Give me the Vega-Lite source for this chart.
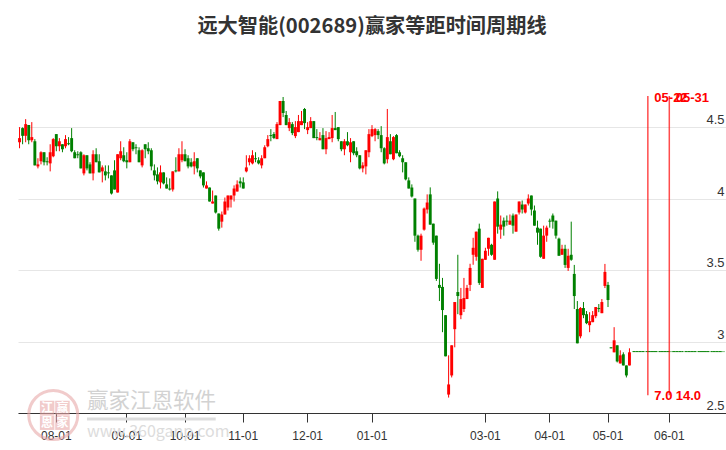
{"$schema":"https://vega.github.io/schema/vega-lite/v6.json","width":708,"height":353,"autosize":{"type":"none"},"padding":{"left":18,"top":60,"right":0,"bottom":37},"background":"white","config":{"view":{"stroke":null}},
"title":{"text":"远大智能(002689)赢家等距时间周期线","font":"Noto Sans CJK SC","fontSize":20.2,"fontWeight":"bold","color":"#333333","anchor":"middle","offset":23},
"datasets":{"k":[
{"d":"07-14","o":4.396,"c":4.425,"h":4.502,"l":4.354},{"d":"07-17","o":4.495,"c":4.441,"h":4.5,"l":4.382},{"d":"07-18","o":4.441,"c":4.523,"h":4.558,"l":4.396},{"d":"07-19","o":4.516,"c":4.41,"h":4.516,"l":4.382},{"d":"07-20","o":4.41,"c":4.432,"h":4.537,"l":4.396},{"d":"07-21","o":4.403,"c":4.234,"h":4.418,"l":4.234},{"d":"07-24","o":4.227,"c":4.241,"h":4.284,"l":4.213},{"d":"07-25","o":4.263,"c":4.326,"h":4.333,"l":4.241},{"d":"07-26","o":4.326,"c":4.256,"h":4.326,"l":4.234},{"d":"07-27","o":4.263,"c":4.256,"h":4.291,"l":4.234},{"d":"07-28","o":4.248,"c":4.326,"h":4.382,"l":4.192},{"d":"07-31","o":4.298,"c":4.418,"h":4.425,"l":4.291},
{"d":"08-01","o":4.453,"c":4.368,"h":4.453,"l":4.333},{"d":"08-02","o":4.368,"c":4.403,"h":4.425,"l":4.333},{"d":"08-03","o":4.382,"c":4.347,"h":4.382,"l":4.326},{"d":"08-04","o":4.368,"c":4.418,"h":4.446,"l":4.354},{"d":"08-07","o":4.389,"c":4.382,"h":4.432,"l":4.375},{"d":"08-08","o":4.425,"c":4.333,"h":4.495,"l":4.326},{"d":"08-09","o":4.326,"c":4.284,"h":4.34,"l":4.284},{"d":"08-10","o":4.312,"c":4.305,"h":4.333,"l":4.284},{"d":"08-11","o":4.326,"c":4.213,"h":4.333,"l":4.213},{"d":"08-14","o":4.178,"c":4.305,"h":4.312,"l":4.164},{"d":"08-15","o":4.305,"c":4.213,"h":4.305,"l":4.199},{"d":"08-16","o":4.241,"c":4.178,"h":4.256,"l":4.178},{"d":"08-17","o":4.178,"c":4.312,"h":4.34,"l":4.129},{"d":"08-18","o":4.312,"c":4.256,"h":4.354,"l":4.256},{"d":"08-21","o":4.263,"c":4.185,"h":4.312,"l":4.185},{"d":"08-22","o":4.192,"c":4.22,"h":4.234,"l":4.115},{"d":"08-23","o":4.192,"c":4.164,"h":4.234,"l":4.129},{"d":"08-24","o":4.185,"c":4.178,"h":4.234,"l":4.143},{"d":"08-25","o":4.164,"c":4.037,"h":4.164,"l":4.03},{"d":"08-28","o":4.199,"c":4.065,"h":4.27,"l":4.065},{"d":"08-29","o":4.044,"c":4.312,"h":4.312,"l":4.044},{"d":"08-30","o":4.284,"c":4.333,"h":4.403,"l":4.27},{"d":"08-31","o":4.305,"c":4.263,"h":4.361,"l":4.256},
{"d":"09-01","o":4.27,"c":4.256,"h":4.326,"l":4.213},{"d":"09-04","o":4.256,"c":4.403,"h":4.418,"l":4.256},{"d":"09-05","o":4.396,"c":4.347,"h":4.396,"l":4.333},{"d":"09-06","o":4.361,"c":4.354,"h":4.382,"l":4.312},{"d":"09-07","o":4.34,"c":4.256,"h":4.361,"l":4.256},{"d":"09-08","o":4.234,"c":4.34,"h":4.347,"l":4.22},{"d":"09-11","o":4.382,"c":4.347,"h":4.382,"l":4.284},{"d":"09-12","o":4.354,"c":4.333,"h":4.396,"l":4.312},{"d":"09-13","o":4.34,"c":4.227,"h":4.354,"l":4.199},{"d":"09-14","o":4.199,"c":4.164,"h":4.241,"l":4.129},{"d":"09-15","o":4.171,"c":4.122,"h":4.22,"l":4.101},{"d":"09-18","o":4.115,"c":4.185,"h":4.234,"l":4.072},{"d":"09-19","o":4.185,"c":4.108,"h":4.185,"l":4.101},{"d":"09-20","o":4.101,"c":4.072,"h":4.15,"l":4.072},{"d":"09-21","o":4.072,"c":4.065,"h":4.143,"l":4.058},{"d":"09-22","o":4.065,"c":4.192,"h":4.192,"l":4.051},{"d":"09-25","o":4.199,"c":4.192,"h":4.291,"l":4.185},{"d":"09-26","o":4.192,"c":4.312,"h":4.354,"l":4.192},{"d":"09-27","o":4.27,"c":4.312,"h":4.403,"l":4.256},
{"d":"10-01","o":4.312,"c":4.263,"h":4.347,"l":4.263},{"d":"10-08","o":4.284,"c":4.227,"h":4.305,"l":4.213},{"d":"10-09","o":4.256,"c":4.227,"h":4.284,"l":4.22},{"d":"10-10","o":4.227,"c":4.263,"h":4.326,"l":4.171},{"d":"10-11","o":4.284,"c":4.213,"h":4.284,"l":4.185},{"d":"10-12","o":4.199,"c":4.157,"h":4.199,"l":4.143},{"d":"10-13","o":4.185,"c":4.094,"h":4.185,"l":4.079},{"d":"10-16","o":4.072,"c":4.094,"h":4.122,"l":4.072},{"d":"10-17","o":4.079,"c":3.981,"h":4.079,"l":3.981},{"d":"10-18","o":3.967,"c":3.981,"h":4.058,"l":3.967},{"d":"10-19","o":4.023,"c":3.904,"h":4.023,"l":3.897},{"d":"10-20","o":3.897,"c":3.791,"h":3.897,"l":3.777},{"d":"10-23","o":3.84,"c":3.89,"h":3.911,"l":3.798},{"d":"10-24","o":3.89,"c":3.981,"h":4.009,"l":3.89},{"d":"10-25","o":3.939,"c":4.023,"h":4.023,"l":3.918},{"d":"10-26","o":3.995,"c":4.023,"h":4.023,"l":3.939},{"d":"10-27","o":4.023,"c":4.072,"h":4.094,"l":3.981},{"d":"10-30","o":4.051,"c":4.101,"h":4.129,"l":4.051},{"d":"10-31","o":4.122,"c":4.108,"h":4.15,"l":4.079},
{"d":"11-01","o":4.115,"c":4.072,"h":4.15,"l":4.072},{"d":"11-02","o":4.192,"c":4.22,"h":4.305,"l":4.185},{"d":"11-03","o":4.256,"c":4.284,"h":4.305,"l":4.234},{"d":"11-06","o":4.248,"c":4.305,"h":4.34,"l":4.241},{"d":"11-07","o":4.284,"c":4.277,"h":4.326,"l":4.256},{"d":"11-08","o":4.27,"c":4.248,"h":4.291,"l":4.241},{"d":"11-09","o":4.234,"c":4.284,"h":4.305,"l":4.213},{"d":"11-10","o":4.284,"c":4.361,"h":4.375,"l":4.284},{"d":"11-13","o":4.368,"c":4.418,"h":4.446,"l":4.361},{"d":"11-14","o":4.446,"c":4.439,"h":4.488,"l":4.403},{"d":"11-15","o":4.453,"c":4.425,"h":4.467,"l":4.418},{"d":"11-16","o":4.418,"c":4.523,"h":4.537,"l":4.418},{"d":"11-17","o":4.516,"c":4.685,"h":4.685,"l":4.516},{"d":"11-20","o":4.685,"c":4.601,"h":4.713,"l":4.572},{"d":"11-21","o":4.587,"c":4.516,"h":4.615,"l":4.516},{"d":"11-22","o":4.495,"c":4.537,"h":4.565,"l":4.474},{"d":"11-23","o":4.523,"c":4.46,"h":4.537,"l":4.446},{"d":"11-24","o":4.439,"c":4.502,"h":4.544,"l":4.425},{"d":"11-27","o":4.467,"c":4.544,"h":4.587,"l":4.467},{"d":"11-28","o":4.516,"c":4.544,"h":4.615,"l":4.516},{"d":"11-29","o":4.629,"c":4.53,"h":4.636,"l":4.488},
{"d":"12-01","o":4.481,"c":4.502,"h":4.537,"l":4.453},{"d":"12-04","o":4.495,"c":4.544,"h":4.572,"l":4.495},{"d":"12-05","o":4.544,"c":4.425,"h":4.544,"l":4.425},{"d":"12-06","o":4.432,"c":4.425,"h":4.488,"l":4.41},{"d":"12-07","o":4.41,"c":4.425,"h":4.467,"l":4.41},{"d":"12-08","o":4.446,"c":4.347,"h":4.495,"l":4.347},{"d":"12-11","o":4.347,"c":4.425,"h":4.474,"l":4.312},{"d":"12-12","o":4.418,"c":4.432,"h":4.467,"l":4.418},{"d":"12-13","o":4.425,"c":4.495,"h":4.587,"l":4.396},{"d":"12-14","o":4.495,"c":4.481,"h":4.608,"l":4.481},{"d":"12-15","o":4.502,"c":4.418,"h":4.502,"l":4.403},{"d":"12-18","o":4.403,"c":4.347,"h":4.403,"l":4.333},{"d":"12-19","o":4.347,"c":4.403,"h":4.418,"l":4.305},{"d":"12-20","o":4.403,"c":4.375,"h":4.467,"l":4.368},{"d":"12-21","o":4.326,"c":4.396,"h":4.425,"l":4.256},{"d":"12-22","o":4.403,"c":4.319,"h":4.403,"l":4.305},{"d":"12-25","o":4.333,"c":4.305,"h":4.361,"l":4.291},{"d":"12-26","o":4.305,"c":4.213,"h":4.305,"l":4.206},{"d":"12-27","o":4.213,"c":4.234,"h":4.256,"l":4.185},{"d":"12-28","o":4.227,"c":4.34,"h":4.34,"l":4.171},{"d":"12-29","o":4.326,"c":4.453,"h":4.488,"l":4.291},
{"d":"01-01","o":4.439,"c":4.488,"h":4.516,"l":4.432},{"d":"01-02","o":4.446,"c":4.488,"h":4.495,"l":4.403},{"d":"01-03","o":4.474,"c":4.446,"h":4.488,"l":4.418},{"d":"01-04","o":4.446,"c":4.354,"h":4.509,"l":4.326},{"d":"01-05","o":4.354,"c":4.248,"h":4.361,"l":4.241},{"d":"01-08","o":4.277,"c":4.432,"h":4.629,"l":4.248},{"d":"01-09","o":4.403,"c":4.312,"h":4.453,"l":4.312},{"d":"01-10","o":4.277,"c":4.432,"h":4.439,"l":4.27},{"d":"01-11","o":4.446,"c":4.319,"h":4.453,"l":4.319},{"d":"01-12","o":4.326,"c":4.298,"h":4.34,"l":4.291},{"d":"01-15","o":4.284,"c":4.256,"h":4.305,"l":4.185},{"d":"01-16","o":4.256,"c":4.136,"h":4.256,"l":4.129},{"d":"01-17","o":4.129,"c":4.072,"h":4.15,"l":4.072},{"d":"01-18","o":4.079,"c":4.016,"h":4.101,"l":4.009},{"d":"01-19","o":4.002,"c":3.742,"h":4.002,"l":3.699},{"d":"01-22","o":3.742,"c":3.643,"h":3.749,"l":3.63},{"d":"01-23","o":3.643,"c":3.742,"h":3.756,"l":3.566},{"d":"01-24","o":3.784,"c":3.932,"h":3.939,"l":3.777},{"d":"01-25","o":3.925,"c":3.974,"h":4.031,"l":3.897},{"d":"01-26","o":4.031,"c":3.819,"h":4.08,"l":3.819},{"d":"01-29","o":3.826,"c":3.693,"h":3.826,"l":3.678},{"d":"01-30","o":3.742,"c":3.439,"h":3.742,"l":3.425},{"d":"01-31","o":3.397,"c":3.376,"h":3.545,"l":3.284},
{"d":"02-01","o":3.383,"c":3.221,"h":3.446,"l":3.066},{"d":"02-02","o":3.185,"c":2.897,"h":3.185,"l":2.897},{"d":"02-05","o":2.629,"c":2.7,"h":2.904,"l":2.608},{"d":"02-06","o":2.763,"c":2.974,"h":2.974,"l":2.749},{"d":"02-07","o":3.087,"c":3.277,"h":3.277,"l":2.96},{"d":"02-08","o":3.347,"c":3.319,"h":3.608,"l":3.192},{"d":"02-19","o":3.185,"c":3.298,"h":3.376,"l":3.157},{"d":"02-20","o":3.228,"c":3.305,"h":3.446,"l":3.207},{"d":"02-21","o":3.298,"c":3.376,"h":3.397,"l":3.298},{"d":"02-22","o":3.397,"c":3.516,"h":3.545,"l":3.354},{"d":"02-23","o":3.608,"c":3.657,"h":3.727,"l":3.538},{"d":"02-26","o":3.594,"c":3.77,"h":3.77,"l":3.566},{"d":"02-27","o":3.791,"c":3.411,"h":3.826,"l":3.397},{"d":"02-28","o":3.376,"c":3.58,"h":3.58,"l":3.376},
{"d":"03-01","o":3.573,"c":3.636,"h":3.657,"l":3.573},{"d":"03-04","o":3.65,"c":3.727,"h":3.727,"l":3.601},{"d":"03-05","o":3.678,"c":3.608,"h":3.685,"l":3.601},{"d":"03-06","o":3.573,"c":3.981,"h":3.981,"l":3.573},{"d":"03-07","o":4.002,"c":3.805,"h":4.052,"l":3.756},{"d":"03-08","o":3.784,"c":3.819,"h":3.883,"l":3.72},{"d":"03-11","o":3.847,"c":3.805,"h":3.869,"l":3.742},{"d":"03-12","o":3.847,"c":3.84,"h":3.883,"l":3.812},{"d":"03-13","o":3.819,"c":3.847,"h":3.89,"l":3.819},{"d":"03-14","o":3.883,"c":3.812,"h":3.897,"l":3.756},{"d":"03-15","o":3.77,"c":3.89,"h":3.89,"l":3.77},{"d":"03-18","o":3.904,"c":3.981,"h":3.981,"l":3.89},{"d":"03-19","o":3.96,"c":3.925,"h":3.988,"l":3.897},{"d":"03-20","o":3.904,"c":3.96,"h":3.96,"l":3.897},{"d":"03-21","o":3.967,"c":4.002,"h":4.031,"l":3.953},{"d":"03-22","o":4.023,"c":3.925,"h":4.023,"l":3.883},{"d":"03-25","o":3.918,"c":3.812,"h":3.953,"l":3.812},{"d":"03-26","o":3.798,"c":3.763,"h":3.847,"l":3.678},{"d":"03-27","o":3.791,"c":3.594,"h":3.791,"l":3.587},{"d":"03-28","o":3.58,"c":3.742,"h":3.812,"l":3.58},{"d":"03-29","o":3.742,"c":3.798,"h":3.812,"l":3.699},
{"d":"04-01","o":3.847,"c":3.84,"h":3.861,"l":3.798},{"d":"04-02","o":3.883,"c":3.84,"h":3.897,"l":3.791},{"d":"04-03","o":3.847,"c":3.742,"h":3.847,"l":3.721},{"d":"04-08","o":3.721,"c":3.601,"h":3.728,"l":3.601},{"d":"04-09","o":3.608,"c":3.65,"h":3.678,"l":3.608},{"d":"04-10","o":3.65,"c":3.537,"h":3.678,"l":3.516},{"d":"04-11","o":3.516,"c":3.601,"h":3.65,"l":3.495},{"d":"04-12","o":3.608,"c":3.573,"h":3.84,"l":3.566},{"d":"04-15","o":3.474,"c":3.319,"h":3.537,"l":3.228},{"d":"04-16","o":3.228,"c":2.988,"h":3.284,"l":2.988},{"d":"04-17","o":3.037,"c":3.235,"h":3.242,"l":3.023},{"d":"04-18","o":3.235,"c":3.185,"h":3.277,"l":3.164},{"d":"04-19","o":3.192,"c":3.129,"h":3.214,"l":3.122},{"d":"04-22","o":3.115,"c":3.143,"h":3.206,"l":3.066},{"d":"04-23","o":3.136,"c":3.185,"h":3.214,"l":3.136},{"d":"04-24","o":3.178,"c":3.242,"h":3.242,"l":3.164},{"d":"04-25","o":3.235,"c":3.228,"h":3.263,"l":3.206},{"d":"04-26","o":3.199,"c":3.277,"h":3.298,"l":3.199},{"d":"04-29","o":3.39,"c":3.488,"h":3.544,"l":3.375},
{"d":"05-01","o":3.397,"c":3.291,"h":3.418,"l":3.242},{"d":"05-06","o":2.96,"c":2.953,"h":2.96,"l":2.953},{"d":"05-07","o":2.925,"c":3.009,"h":3.101,"l":2.925},{"d":"05-08","o":2.974,"c":2.861,"h":2.974,"l":2.854},{"d":"05-09","o":2.847,"c":2.904,"h":2.939,"l":2.847},{"d":"05-10","o":2.911,"c":2.833,"h":2.925,"l":2.833},{"d":"05-13","o":2.833,"c":2.763,"h":2.833,"l":2.749},{"d":"05-14","o":2.833,"c":2.925,"h":2.953,"l":2.833}
],
"f":[{"d":"05-15","v":2.93},{"d":"05-16","v":2.93},{"d":"05-17","v":2.93},{"d":"05-20","v":2.93},{"d":"05-21","v":2.93},{"d":"05-22","v":2.93},{"d":"05-23","v":2.93},{"d":"05-24","v":2.93},{"d":"05-27","v":2.93},{"d":"05-28","v":2.93},{"d":"05-29","v":2.93},{"d":"05-30","v":2.93},{"d":"06-01","v":2.93},{"d":"06-03","v":2.93},{"d":"06-04","v":2.93},{"d":"06-05","v":2.93},{"d":"06-06","v":2.93},{"d":"06-07","v":2.93},{"d":"06-11","v":2.93},{"d":"06-12","v":2.93},{"d":"06-13","v":2.93},{"d":"06-14","v":2.93},{"d":"06-17","v":2.93},{"d":"06-18","v":2.93},{"d":"06-19","v":2.93},{"d":"06-20","v":2.93},{"d":"06-21","v":2.93},{"d":"06-24","v":2.93},{"d":"06-25","v":2.93},{"d":"06-26","v":2.93},{"d":"06-27","v":2.93}],
"cy":[{"d":"05-22","top":4.72,"bot":2.625,"date":"05-22","n":"7.0"},{"d":"06-01","top":4.72,"bot":2.625,"date":"05-31","n":"14.0"}]
},
"encoding":{"x":{"field":"d","type":"ordinal","title":null,"scale":{"type":"band","paddingInner":0,"paddingOuter":0,"domain":["07-14","07-17","07-18","07-19","07-20","07-21","07-24","07-25","07-26","07-27","07-28","07-31","08-01","08-02","08-03","08-04","08-07","08-08","08-09","08-10","08-11","08-14","08-15","08-16","08-17","08-18","08-21","08-22","08-23","08-24","08-25","08-28","08-29","08-30","08-31","09-01","09-04","09-05","09-06","09-07","09-08","09-11","09-12","09-13","09-14","09-15","09-18","09-19","09-20","09-21","09-22","09-25","09-26","09-27","10-01","10-08","10-09","10-10","10-11","10-12","10-13","10-16","10-17","10-18","10-19","10-20","10-23","10-24","10-25","10-26","10-27","10-30","10-31","11-01","11-02","11-03","11-06","11-07","11-08","11-09","11-10","11-13","11-14","11-15","11-16","11-17","11-20","11-21","11-22","11-23","11-24","11-27","11-28","11-29","12-01","12-04","12-05","12-06","12-07","12-08","12-11","12-12","12-13","12-14","12-15","12-18","12-19","12-20","12-21","12-22","12-25","12-26","12-27","12-28","12-29","01-01","01-02","01-03","01-04","01-05","01-08","01-09","01-10","01-11","01-12","01-15","01-16","01-17","01-18","01-19","01-22","01-23","01-24","01-25","01-26","01-29","01-30","01-31","02-01","02-02","02-05","02-06","02-07","02-08","02-19","02-20","02-21","02-22","02-23","02-26","02-27","02-28","03-01","03-04","03-05","03-06","03-07","03-08","03-11","03-12","03-13","03-14","03-15","03-18","03-19","03-20","03-21","03-22","03-25","03-26","03-27","03-28","03-29","04-01","04-02","04-03","04-08","04-09","04-10","04-11","04-12","04-15","04-16","04-17","04-18","04-19","04-22","04-23","04-24","04-25","04-26","04-29","05-01","05-06","05-07","05-08","05-09","05-10","05-13","05-14","05-15","05-16","05-17","05-20","05-21","05-22","05-23","05-24","05-27","05-28","05-29","05-30","06-01","06-03","06-04","06-05","06-06","06-07","06-11","06-12","06-13","06-14","06-17","06-18","06-19","06-20","06-21","06-24","06-25","06-26","06-27"]},
"axis":{"values":["08-01","09-01","10-01","11-01","12-01","01-01","03-01","04-01","05-01","06-01"],"labelAngle":0,"labelOverlap":false,"labelFont":"Liberation Sans","labelFontSize":12,"labelColor":"#333333","labelPadding":8,"tickSize":9,"tickColor":"#333333","domainColor":"#333333","grid":false}}},
"layer":[
{"data":{"values":[{"d":"07-31","y":2.486}]},"mark":{"type":"point","shape":"circle","filled":false,"size":2400,"stroke":"#e8a9a9","strokeWidth":3,"opacity":0.6,"clip":false},"encoding":{"y":{"field":"y","type":"quantitative","title":null,"scale":{"domain":[2.5,4.972],"nice":false,"zero":false},"axis":{"orient":"right","title":null,"values":[2.5,3,3.5,4,4.5],"format":"~g","grid":true,"gridColor":"#e6e6e6","gridWidth":1,"domain":false,"ticks":false,"labelFont":"Liberation Sans","labelFontSize":13,"labelColor":"#333333","labelAlign":"right","labelBaseline":"alphabetic","labelPadding":-2,"labelOffset":-3.5}}}},
{"data":{"values":[{"d":"07-27","y":2.535,"t":"江"},{"d":"08-03","y":2.535,"t":"赢"},{"d":"07-27","y":2.432,"t":"恩"},{"d":"08-03","y":2.432,"t":"家"}]},"layer":[
{"mark":{"type":"point","shape":"square","filled":true,"size":210,"color":"#e8a9a9","opacity":0.6},"encoding":{"y":{"field":"y","type":"quantitative","title":null}}},
{"mark":{"type":"text","font":"Noto Sans CJK SC","fontWeight":"bold","fontSize":12,"color":"#ffffff","baseline":"middle"},"encoding":{"y":{"field":"y","type":"quantitative","title":null},"text":{"field":"t"}}}]},
{"data":{"values":[{"d":"08-15","y":2.577,"t":"赢家江恩软件","s":21.5,"cl":"#d2d2d2"},{"d":"08-15","y":2.367,"t":"www.360ganp.com","s":16,"cl":"#dcdcdc"}]},"mark":{"type":"text","font":"Noto Sans CJK SC","align":"left","baseline":"middle"},"encoding":{"y":{"field":"y","type":"quantitative","title":null},"text":{"field":"t"},"size":{"field":"s","type":"quantitative","scale":null,"legend":null},"color":{"field":"cl","type":"nominal","scale":null,"legend":null}}},
{"data":{"values":[{"d":"08-15","y":2.458},{"d":"10-19","y":2.458}]},"mark":{"type":"line","color":"#dddddd","strokeWidth":3},"encoding":{"y":{"field":"y","type":"quantitative","title":null}}},
{"data":{"name":"k"},"mark":{"type":"rule","strokeWidth":1},"encoding":{"y":{"field":"l","type":"quantitative","title":null},"y2":{"field":"h"},"color":{"condition":{"test":"datum.c>=datum.o","value":"#ff0000"},"value":"#008000"}}},
{"data":{"name":"k"},"mark":{"type":"bar","width":{"band":0.95}},"encoding":{"y":{"field":"o","type":"quantitative","title":null},"y2":{"field":"c"},"color":{"condition":{"test":"datum.c>=datum.o","value":"#ff0000"},"value":"#008000"}}},
{"data":{"name":"f"},"mark":{"type":"line","color":"#008000","strokeWidth":1,"strokeDash":[12,1]},"encoding":{"y":{"field":"v","type":"quantitative","title":null}}},
{"data":{"name":"cy"},"mark":{"type":"rule","color":"#ff0000","strokeWidth":1.5,"opacity":0.7},"encoding":{"y":{"field":"bot","type":"quantitative","title":null},"y2":{"field":"top"}}},
{"data":{"name":"cy"},"mark":{"type":"text","color":"#ff0000","font":"Liberation Sans","fontWeight":"bold","fontSize":13,"align":"left","baseline":"middle","dx":6.5,"dy":2},"encoding":{"y":{"field":"top","type":"quantitative","title":null},"text":{"field":"date"}}},
{"data":{"name":"cy"},"mark":{"type":"text","color":"#ff0000","font":"Liberation Sans","fontWeight":"bold","fontSize":13,"align":"left","baseline":"middle","dx":6.5,"dy":1},"encoding":{"y":{"field":"bot","type":"quantitative","title":null},"text":{"field":"n"}}}
]}
